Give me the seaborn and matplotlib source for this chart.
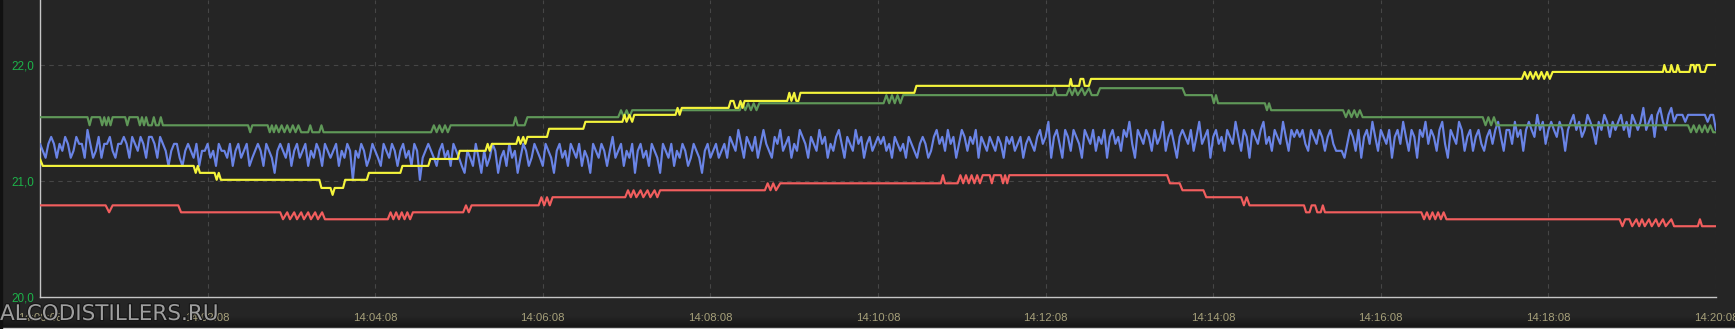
import numpy as np
import pandas as pd
import matplotlib
matplotlib.use("Agg")
import matplotlib.pyplot as plt
import matplotlib.patheffects as pe
from matplotlib.colors import LinearSegmentedColormap
from matplotlib.ticker import FixedLocator, MultipleLocator
import seaborn as sns

# ---------------- data (time in seconds from 14:00:08) ----------------
x_tick_seconds = [0, 120, 240, 360, 480, 600, 720, 840, 960, 1080, 1200]
x_tick_labels = ["14:00:08", "14:02:08", "14:04:08", "14:06:08", "14:08:08", "14:10:08",
                 "14:12:08", "14:14:08", "14:16:08", "14:18:08", "14:20:08"]
y_tick_values = [20.0, 21.0, 22.0]
y_tick_labels = ["20,0", "21,0", "22,0"]

red_t = [0, 47, 49.5, 52, 99, 101,
         172, 174, 177, 179, 182, 184, 187, 189, 192, 194, 197, 199, 202, 204,
         249, 251, 253, 255, 257, 259, 261, 263, 265, 267,
         303, 305, 307, 309,
         357, 359, 361, 363, 365, 367,
         419, 421, 423, 425, 427, 430, 432, 435, 437, 440, 442, 444,
         519, 521, 523, 525, 527, 530,
         645, 646.5, 648,
         657, 659, 661, 663, 665, 667, 669, 671, 673, 675,
         680, 681.5, 683, 688, 689.5, 691, 692.5, 694,
         807, 809, 816, 818, 833, 835,
         860, 862, 864, 866,
         905, 906.5, 909, 910.5, 913, 914.5, 917, 918.5, 920,
         989, 991, 993, 995, 997, 999, 1001, 1003, 1005, 1007,
         1131, 1133, 1135, 1138, 1140, 1143, 1145, 1147, 1149, 1152, 1154, 1157, 1159, 1162, 1164, 1168, 1170,
         1187, 1188.5, 1190, 1200]
red_v = [20.79, 20.79, 20.73, 20.79, 20.79, 20.73,
         20.73, 20.67, 20.73, 20.67, 20.73, 20.67, 20.73, 20.67, 20.73, 20.67, 20.73, 20.67, 20.73, 20.67,
         20.67, 20.73, 20.67, 20.73, 20.67, 20.73, 20.67, 20.73, 20.67, 20.73,
         20.73, 20.79, 20.73, 20.79,
         20.79, 20.86, 20.79, 20.86, 20.79, 20.86,
         20.86, 20.92, 20.86, 20.92, 20.86, 20.92, 20.86, 20.92, 20.86, 20.92, 20.86, 20.92,
         20.92, 20.98, 20.92, 20.98, 20.92, 20.98,
         20.98, 21.05, 20.98,
         20.98, 21.05, 20.98, 21.05, 20.98, 21.05, 20.98, 21.05, 20.98, 21.05,
         21.05, 20.98, 21.05, 21.05, 20.98, 21.05, 20.98, 21.05,
         21.05, 20.98, 20.98, 20.92, 20.92, 20.86,
         20.86, 20.79, 20.86, 20.79,
         20.79, 20.73, 20.73, 20.79, 20.79, 20.73, 20.73, 20.79, 20.73,
         20.73, 20.67, 20.73, 20.67, 20.73, 20.67, 20.73, 20.67, 20.73, 20.67,
         20.67, 20.61, 20.67, 20.67, 20.61, 20.67, 20.61, 20.67, 20.61, 20.67, 20.61, 20.67, 20.61, 20.67, 20.61, 20.67, 20.61,
         20.61, 20.67, 20.61, 20.61]

green_t = [0, 34, 35.5, 37,
           43, 44.5, 46, 47.5, 49, 50.5, 52,
           61, 62.5, 64,
           70, 71.5, 73, 74.5, 76, 77.5, 80, 81.5, 83, 85, 86.5, 88,
           149, 150.5, 152,
           163, 164.5, 166, 167.5, 169, 171, 173, 175, 177, 179, 181, 183, 185, 187,
           192, 193.5, 195, 200, 201.5, 203,
           280, 282, 284, 286, 288, 290, 292, 294,
           339, 340.5, 342, 347, 349,
           414, 416, 418, 420, 422, 424,
           501, 503, 505, 507, 509, 511, 513, 515,
           604, 606, 608, 610, 612, 614, 616, 618,
           725, 726.5, 728,
           735, 737, 739, 741, 743, 746, 748, 751, 753, 757, 759,
           818, 820,
           839, 840.5, 842, 843.5,
           877, 878.5, 880, 881.5, 883,
           933, 935, 937, 939, 941, 943, 945, 947, 950,
           1033, 1035, 1037, 1039, 1041, 1043,
           1180, 1182, 1184, 1186, 1188, 1190, 1192, 1194, 1196, 1198, 1200]
green_v = [21.55, 21.55, 21.48, 21.55,
           21.55, 21.48, 21.55, 21.48, 21.55, 21.48, 21.55,
           21.55, 21.48, 21.55,
           21.55, 21.48, 21.55, 21.48, 21.55, 21.48, 21.48, 21.55, 21.48, 21.48, 21.55, 21.48,
           21.48, 21.42, 21.48,
           21.48, 21.42, 21.48, 21.42, 21.48, 21.42, 21.48, 21.42, 21.48, 21.42, 21.48, 21.42, 21.48, 21.42,
           21.42, 21.48, 21.42, 21.42, 21.48, 21.42,
           21.42, 21.48, 21.42, 21.48, 21.42, 21.48, 21.42, 21.48,
           21.48, 21.55, 21.48, 21.48, 21.55,
           21.55, 21.61, 21.55, 21.61, 21.55, 21.61,
           21.61, 21.67, 21.61, 21.67, 21.61, 21.67, 21.61, 21.67,
           21.67, 21.74, 21.67, 21.74, 21.67, 21.74, 21.67, 21.74,
           21.74, 21.80, 21.74,
           21.74, 21.80, 21.74, 21.80, 21.74, 21.80, 21.74, 21.80, 21.74, 21.74, 21.80,
           21.80, 21.74,
           21.74, 21.67, 21.74, 21.67,
           21.67, 21.61, 21.67, 21.61, 21.61,
           21.61, 21.55, 21.61, 21.55, 21.61, 21.55, 21.61, 21.55, 21.55,
           21.55, 21.48, 21.55, 21.48, 21.55, 21.48,
           21.48, 21.42, 21.48, 21.42, 21.48, 21.42, 21.48, 21.42, 21.48, 21.42, 21.42]

yellow_t = [0, 2,
            110, 111.5, 113, 114.5,
            125, 126.5, 128, 129.5,
            200, 201.5, 208, 209.5, 211, 217, 218.5,
            234, 235.5, 258, 259.5, 278, 279.5, 299, 300.5,
            319, 320.5, 322, 323.5,
            341, 342.5, 344, 346, 347.5, 349,
            363, 364.5, 389, 390.5,
            417, 418.5, 420, 422, 424, 425.5,
            455, 456.5, 458, 459.5,
            493, 494.5, 496.5, 498, 500, 501.5, 503, 504.5,
            535, 536.5, 538, 540, 541.5, 543, 544.5,
            626, 627.5,
            737, 738, 739, 744, 745, 747, 748, 751, 752.5,
            1061, 1063, 1065, 1067, 1069, 1071, 1073, 1075, 1077, 1079, 1081, 1083,
            1162, 1163, 1164.5, 1167, 1168, 1169.5, 1171.5, 1172.5, 1174,
            1181, 1182, 1184, 1185, 1186, 1188, 1189, 1192, 1193.5, 1200]
yellow_v = [21.19, 21.13,
            21.13, 21.07, 21.13, 21.07,
            21.07, 21.01, 21.07, 21.01,
            21.01, 20.94, 20.94, 20.88, 20.94, 20.94, 21.01,
            21.01, 21.07, 21.07, 21.13, 21.13, 21.19, 21.19, 21.26,
            21.26, 21.32, 21.26, 21.32,
            21.32, 21.38, 21.32, 21.38, 21.32, 21.38,
            21.38, 21.45, 21.45, 21.51,
            21.51, 21.57, 21.51, 21.57, 21.51, 21.57,
            21.57, 21.63, 21.57, 21.63,
            21.63, 21.69, 21.69, 21.63, 21.63, 21.69, 21.63, 21.69,
            21.69, 21.76, 21.69, 21.76, 21.69, 21.69, 21.76,
            21.76, 21.82,
            21.82, 21.88, 21.82, 21.82, 21.88, 21.88, 21.82, 21.82, 21.88,
            21.88, 21.94, 21.88, 21.94, 21.88, 21.94, 21.88, 21.94, 21.88, 21.94, 21.88, 21.94,
            21.94, 22.0, 21.94, 21.94, 22.0, 21.94, 21.94, 22.0, 21.94,
            21.94, 22.0, 22.0, 21.94, 22.0, 22.0, 21.94, 21.94, 22.0, 22.0]

# blue sensor, one reading every 2 s (601 readings)
blue_v = [
    # 14:00:08 - 14:01:34
    21.32, 21.26, 21.2, 21.32, 21.38, 21.32, 21.2, 21.32, 21.26, 21.38,
    21.32, 21.2, 21.26, 21.38, 21.32, 21.32, 21.2, 21.44, 21.32, 21.2,
    21.26, 21.38, 21.2, 21.32, 21.32, 21.38, 21.26, 21.2, 21.32, 21.32,
    21.38, 21.32, 21.2, 21.38, 21.32, 21.26, 21.38, 21.32, 21.2, 21.38,
    21.38, 21.32, 21.2, 21.38,
    # 14:01:36 - 14:05:06
    21.32, 21.26, 21.13, 21.26, 21.32, 21.32, 21.2, 21.13, 21.26, 21.32,
    21.26, 21.2, 21.32, 21.13, 21.26, 21.26, 21.32, 21.2, 21.26, 21.13,
    21.32, 21.26, 21.26, 21.2, 21.32, 21.13, 21.26, 21.32, 21.2, 21.26,
    21.32, 21.13, 21.2, 21.26, 21.32, 21.26, 21.13, 21.32, 21.26, 21.2,
    21.07, 21.26, 21.32, 21.26, 21.2, 21.32, 21.13, 21.26, 21.32, 21.2,
    21.26, 21.32, 21.13, 21.26, 21.2, 21.32, 21.26, 21.13, 21.32, 21.26,
    21.2, 21.26, 21.32, 21.13, 21.26, 21.2, 21.32, 21.26, 21.01, 21.26,
    21.2, 21.32, 21.26, 21.13, 21.2, 21.32, 21.26, 21.2, 21.13, 21.32,
    21.26, 21.2, 21.32, 21.26, 21.13, 21.26, 21.32, 21.2, 21.26, 21.13,
    21.32, 21.26, 21.01, 21.2, 21.26, 21.32, 21.26, 21.2, 21.13, 21.26,
    21.32, 21.2, 21.26, 21.13, 21.32, 21.26,
    # 14:05:08 - 14:08:14
    21.2, 21.13, 21.07, 21.26, 21.2, 21.13, 21.32, 21.2, 21.07, 21.26,
    21.13, 21.2, 21.32, 21.26, 21.07, 21.2, 21.26, 21.13, 21.32, 21.2,
    21.26, 21.07, 21.2, 21.32, 21.26, 21.13, 21.2, 21.32, 21.26, 21.2,
    21.13, 21.32, 21.26, 21.2, 21.07, 21.26, 21.32, 21.2, 21.26, 21.13,
    21.32, 21.26, 21.2, 21.32, 21.13, 21.26, 21.2, 21.07, 21.32, 21.26,
    21.2, 21.32, 21.26, 21.13, 21.26, 21.38, 21.2, 21.26, 21.32, 21.13,
    21.26, 21.2, 21.32, 21.07, 21.26, 21.32, 21.2, 21.26, 21.13, 21.32,
    21.26, 21.2, 21.07, 21.32, 21.26, 21.2, 21.32, 21.13, 21.26, 21.2,
    21.32, 21.26, 21.13, 21.2, 21.32, 21.26, 21.2, 21.07, 21.26, 21.32,
    21.2, 21.26, 21.32, 21.2,
    # 14:08:16 - 14:10:08
    21.26, 21.32, 21.2, 21.38, 21.32, 21.26, 21.44, 21.32, 21.2, 21.38,
    21.32, 21.26, 21.38, 21.2, 21.32, 21.44, 21.32, 21.26, 21.2, 21.38,
    21.32, 21.44, 21.26, 21.32, 21.38, 21.2, 21.32, 21.26, 21.44, 21.38,
    21.32, 21.2, 21.38, 21.32, 21.26, 21.44, 21.32, 21.38, 21.2, 21.32,
    21.26, 21.38, 21.44, 21.32, 21.2, 21.38, 21.32, 21.26, 21.44, 21.32,
    21.38, 21.2, 21.32, 21.38, 21.26, 21.32, 21.38,
    # 14:10:10 - 14:15:08
    21.32, 21.38, 21.26, 21.32, 21.2, 21.38, 21.32, 21.26, 21.32, 21.2,
    21.38, 21.32, 21.26, 21.2, 21.32, 21.38, 21.32, 21.2, 21.26, 21.38,
    21.44, 21.32, 21.38, 21.26, 21.44, 21.32, 21.38, 21.2, 21.32, 21.44,
    21.38, 21.26, 21.38, 21.32, 21.44, 21.2, 21.38, 21.32, 21.26, 21.38,
    21.32, 21.26, 21.38, 21.32, 21.2, 21.38, 21.32, 21.38, 21.26, 21.32,
    21.38, 21.2, 21.32, 21.38, 21.32, 21.26, 21.38, 21.44, 21.32, 21.38,
    21.51, 21.2, 21.38, 21.44, 21.32, 21.2, 21.44, 21.38, 21.26, 21.44,
    21.38, 21.32, 21.2, 21.44, 21.38, 21.32, 21.44, 21.26, 21.38, 21.32,
    21.44, 21.2, 21.38, 21.44, 21.32, 21.38, 21.26, 21.44, 21.38, 21.51,
    21.32, 21.2, 21.44, 21.38, 21.32, 21.44, 21.38, 21.26, 21.44, 21.32,
    21.38, 21.51, 21.26, 21.38, 21.44, 21.32, 21.2, 21.38, 21.44, 21.38,
    21.32, 21.44, 21.26, 21.38, 21.51, 21.32, 21.38, 21.44, 21.2, 21.38,
    21.44, 21.32, 21.38, 21.26, 21.44, 21.38, 21.32, 21.51, 21.38, 21.26,
    21.44, 21.38, 21.2, 21.44, 21.38, 21.32, 21.44, 21.51, 21.32, 21.38,
    21.26, 21.44, 21.38, 21.32, 21.51, 21.38, 21.26, 21.44, 21.38, 21.44,
    # 14:15:10 - 14:17:18
    21.38, 21.44, 21.32, 21.26, 21.44, 21.38, 21.32, 21.44, 21.38, 21.26,
    21.38, 21.44, 21.32, 21.26, 21.26, 21.26, 21.2, 21.32, 21.44, 21.38,
    21.26, 21.44, 21.2, 21.38, 21.44, 21.32, 21.51, 21.38, 21.26, 21.44,
    21.38, 21.32, 21.44, 21.2, 21.38, 21.44, 21.32, 21.51, 21.38, 21.26,
    21.44, 21.38, 21.2, 21.44, 21.38, 21.51, 21.32, 21.44, 21.38, 21.26,
    21.44, 21.51, 21.32, 21.2, 21.44, 21.38, 21.32, 21.51, 21.44, 21.26,
    21.38, 21.44, 21.26, 21.38, 21.44,
    # 14:17:20 - 14:20:08
    21.32, 21.26, 21.38, 21.44, 21.32, 21.44, 21.51, 21.38, 21.26, 21.44,
    21.44, 21.32, 21.51, 21.38, 21.44, 21.26, 21.44, 21.51, 21.44, 21.38,
    21.57, 21.44, 21.51, 21.32, 21.44, 21.51, 21.44, 21.38, 21.51, 21.44,
    21.26, 21.44, 21.51, 21.57, 21.44, 21.51, 21.38, 21.44, 21.57, 21.51,
    21.44, 21.32, 21.51, 21.44, 21.57, 21.51, 21.38, 21.51, 21.44, 21.51,
    21.57, 21.44, 21.51, 21.38, 21.57, 21.51, 21.44, 21.51, 21.63, 21.44,
    21.51, 21.57, 21.38, 21.57, 21.63, 21.51, 21.44, 21.57, 21.63, 21.51,
    21.57, 21.57, 21.57, 21.51, 21.57, 21.57, 21.57, 21.57, 21.57, 21.57,
    21.57, 21.51, 21.57, 21.57, 21.44]
blue_t = np.linspace(0, 1200, len(blue_v))

# ---------------- style ----------------
BG = "#252525"
sns.set_style("dark")
plt.rcParams["font.family"] = ["Liberation Sans", "DejaVu Sans"]

fig = plt.figure(figsize=(17.35, 3.29), dpi=100, facecolor=BG)

# dark window band at the bottom (gradient) drawn under the chart
bax = fig.add_axes([0, 0, 1, 13 / 329], zorder=-1)
bax.axis("off")
band_cmap = LinearSegmentedColormap.from_list("band", ["#131313", "#252525"])
bax.imshow(np.linspace(0, 1, 32)[:, None], aspect="auto", cmap=band_cmap,
           extent=[0, 1, 0, 1], origin="lower")
bax.set_xlim(0, 1)
bax.set_ylim(0, 1)

ax = fig.add_axes([40 / 1735, 32 / 329, (1716 - 40) / 1735, 297 / 329], zorder=1)
ax.set_facecolor(BG)

lw = 1.55
sns.lineplot(x=blue_t, y=blue_v, color="#6a84e6", lw=lw, ax=ax, estimator=None, sort=False, zorder=3)
sns.lineplot(x=red_t, y=red_v, color="#f25e5e", lw=lw, ax=ax, estimator=None, sort=False, zorder=4)
sns.lineplot(x=green_t, y=green_v, color="#5f9858", lw=lw, ax=ax, estimator=None, sort=False, zorder=5)
sns.lineplot(x=yellow_t, y=yellow_v, color="#f4f43c", lw=lw, ax=ax, estimator=None, sort=False, zorder=6)

ax.set_xlim(0, 1200)
ax.set_ylim(20.0, 22.56)
ax.xaxis.set_major_locator(FixedLocator(x_tick_seconds))
ax.set_xticklabels(x_tick_labels)
ax.xaxis.set_minor_locator(MultipleLocator(24))
ax.yaxis.set_major_locator(FixedLocator(y_tick_values))
ax.set_yticklabels(y_tick_labels)
ax.yaxis.set_minor_locator(MultipleLocator(0.2))

ax.tick_params(axis="x", which="major", direction="out", length=3, width=0.8, color="#8c8c8c",
               labelcolor="#a6a07a", labelsize=8.2, pad=8.5)
ax.tick_params(axis="x", which="minor", direction="out", length=2.5, width=0.8, color="#8c8c8c")
ax.tick_params(axis="y", which="major", direction="out", length=3, width=0.8, color="#8c8c8c",
               labelcolor="#1db34a", labelsize=8.4, pad=1.5)
ax.tick_params(axis="y", which="minor", direction="out", length=2.5, width=0.8, color="#8c8c8c")

ax.grid(True, which="major", color="#464646", linestyle=(0, (4, 4)), lw=0.8)
ax.grid(False, which="minor")
for s in ["top", "right"]:
    ax.spines[s].set_visible(False)
for s in ["left", "bottom"]:
    ax.spines[s].set_color("#c6c6c6")
    ax.spines[s].set_linewidth(1.0)
ax.set_xlabel("")
ax.set_ylabel("")

# thin light edge at the very bottom and dark left edge of the window
fig.patches.append(plt.Rectangle((0, 0), 1, 1.2 / 329, transform=fig.transFigure,
                                 color="#cfcfcf", zorder=5))
fig.patches.append(plt.Rectangle((0, 0), 2 / 1735, 1, transform=fig.transFigure,
                                 color="#111111", zorder=5))

wm = fig.text(0.0, 9 / 329, "ALCODISTILLERS.RU", fontsize=15.5, color="#9e9e9e",
              family="DejaVu Sans", ha="left", va="baseline", zorder=10)
wm.set_path_effects([pe.withStroke(linewidth=1.6, foreground="#151515")])

fig.savefig("out.png", dpi=100, facecolor=BG)
